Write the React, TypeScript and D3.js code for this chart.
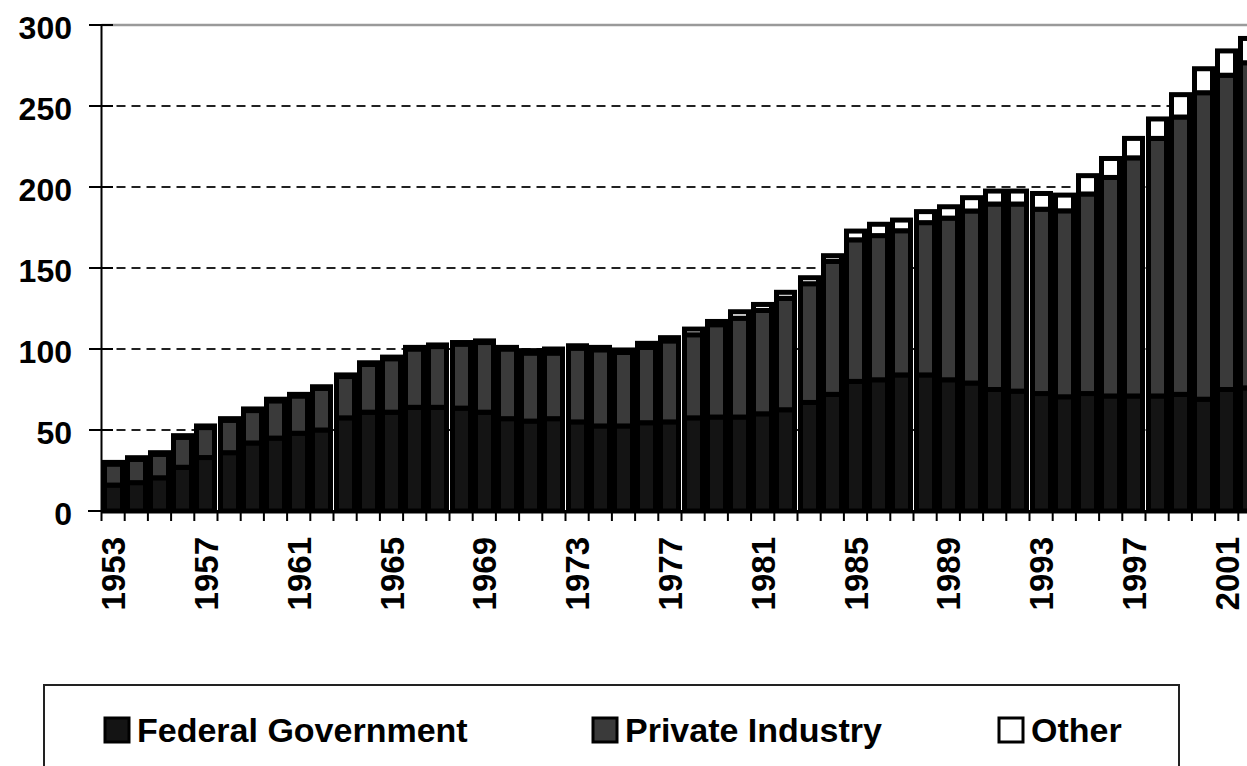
import React, { useEffect, useRef } from 'react'
import * as d3 from 'd3'

// Values (billions, stacked)
const years = [
  '1953', '1954', '1955', '1956', '1957', '1958', '1959', '1960', '1961', '1962',
  '1963', '1964', '1965', '1966', '1967', '1968', '1969', '1970', '1971', '1972',
  '1973', '1974', '1975', '1976', '1977', '1978', '1979', '1980', '1981', '1982',
  '1983', '1984', '1985', '1986', '1987', '1988', '1989', '1990', '1991', '1992',
  '1993', '1994', '1995', '1996', '1997', '1998', '1999', '2000', '2001', '2002',
]

const federal = [
  16, 17.5, 20.5, 27, 33, 36, 42, 45, 48, 50,
  57.5, 61, 61, 64, 64, 63.5, 61, 57, 55.5, 57,
  55, 52.5, 52.5, 54.5, 55, 57.5, 58, 58, 60, 62.5,
  67, 72, 80, 81, 84, 84, 81, 79, 75, 74,
  72.5, 70.5, 72.5, 71, 71, 71, 72, 69, 75, 76,
]

const privateIndustry = [
  13, 14.4, 14.5, 18.5, 18.5, 20, 20, 23, 23, 25.7,
  25.5, 29.5, 33, 36, 37.5, 39.5, 43, 43, 42, 40.5,
  45.5, 47, 45.4, 46.5, 50, 51.3, 57, 61, 63.8, 68.8,
  73.3, 82.1, 87.4, 89, 89, 94, 99.8, 106.2, 114.5, 115.5,
  113.8, 114.8, 123.2, 134.9, 147, 159, 171.2, 189.2, 194, 200.7,
]

const other = [
  1, 1, 1, 1, 1, 1, 1, 1, 1, 1,
  1, 1, 1, 1, 1, 1, 1, 1, 1.5, 2.5,
  1.5, 1.5, 1.5, 2.5, 2, 3.5, 2, 4, 3.7, 3.7,
  3.7, 3.5, 5.4, 7, 6.6, 6.8, 7, 8.2, 8, 8,
  9.7, 9.7, 11.3, 11.7, 12, 12, 13.8, 14.8, 15, 15,
]

const yearLabels = [
  '1953', '1957', '1961', '1965', '1969', '1973', '1977',
  '1981', '1985', '1989', '1993', '1997', '2001',
]

const yTicks = [0, 50, 100, 150, 200, 250, 300]

const seriesKeys = ['federal', 'private', 'other']
const seriesNames = ['Federal Government', 'Private Industry', 'Other']
const seriesColors = ['#141414', '#3a3a3a', '#ffffff']

const FONT = '"Liberation Sans", Arial, sans-serif'

export default function App() {
  const svgRef = useRef<SVGSVGElement>(null)
  const width = 1247
  const height = 766

  useEffect(() => {
    if (!svgRef.current) return
    const svg = d3.select(svgRef.current)
    svg.selectAll('*').remove()

    const left = 101.5
    const step = 23.2
    const top = 25
    const bottom = 511

    const table = years.map((year, i) => ({
      year,
      federal: federal[i],
      private: privateIndustry[i],
      other: other[i],
    }))

    const xScale = d3
      .scaleBand()
      .domain(years)
      .range([left, left + step * years.length])
      .padding(0)

    const yScale = d3.scaleLinear().domain([0, 300]).range([bottom, top])

    const stacked = d3.stack<any>().keys(seriesKeys)(table)

    // dashed gridlines
    svg
      .append('g')
      .selectAll('line')
      .data(yTicks.filter((t) => t > 0 && t < 300))
      .join('line')
      .attr('x1', left)
      .attr('x2', width)
      .attr('y1', (d) => yScale(d))
      .attr('y2', (d) => yScale(d))
      .attr('stroke', '#222')
      .attr('stroke-width', 2.2)
      .attr('stroke-dasharray', '9,6')

    // plot top border
    svg
      .append('line')
      .attr('x1', left)
      .attr('x2', width)
      .attr('y1', yScale(300))
      .attr('y2', yScale(300))
      .attr('stroke', '#9a9a9a')
      .attr('stroke-width', 2.5)

    // stacked bars
    const groups = svg
      .append('g')
      .selectAll('g')
      .data(stacked)
      .join('g')
      .attr('fill', (_, i) => seriesColors[i])

    groups
      .selectAll('rect')
      .data((d) => d)
      .join('rect')
      .attr('x', (d: any) => Math.round(xScale(d.data.year) || 0) + 2.5)
      .attr('width', 18)
      .attr('y', (d: any) => yScale(d[1]))
      .attr('height', (d: any) => yScale(d[0]) - yScale(d[1]))
      .attr('stroke', '#000')
      .attr('stroke-width', 5)

    // y axis
    const yAxis = svg.append('g')
    yAxis
      .append('line')
      .attr('x1', left)
      .attr('x2', left)
      .attr('y1', yScale(300))
      .attr('y2', bottom)
      .attr('stroke', '#000')
      .attr('stroke-width', 2)
    yAxis
      .selectAll('line.tick')
      .data(yTicks)
      .join('line')
      .attr('class', 'tick')
      .attr('x1', 89)
      .attr('x2', 113)
      .attr('y1', (d) => yScale(d))
      .attr('y2', (d) => yScale(d))
      .attr('stroke', '#000')
      .attr('stroke-width', 2)
    yAxis
      .selectAll('text')
      .data(yTicks)
      .join('text')
      .attr('x', 72)
      .attr('y', (d) => yScale(d) + 14)
      .attr('text-anchor', 'end')
      .style('font-family', FONT)
      .style('font-weight', 'bold')
      .style('font-size', '32px')
      .attr('fill', '#000')
      .text((d) => d)

    // x axis
    const xAxis = svg.append('g')
    xAxis
      .append('line')
      .attr('x1', 88)
      .attr('x2', width)
      .attr('y1', bottom)
      .attr('y2', bottom)
      .attr('stroke', '#000')
      .attr('stroke-width', 2)
    xAxis
      .selectAll('line.tick')
      .data(years)
      .join('line')
      .attr('class', 'tick')
      .attr('x1', (d) => xScale(d) || 0)
      .attr('x2', (d) => xScale(d) || 0)
      .attr('y1', bottom)
      .attr('y2', bottom + 10)
      .attr('stroke', '#000')
      .attr('stroke-width', 2)
    xAxis
      .selectAll('text')
      .data(yearLabels)
      .join('text')
      .attr(
        'transform',
        (d) => `translate(${(xScale(d) || 0) + xScale.bandwidth() / 2 + 12},537) rotate(-90)`
      )
      .attr('text-anchor', 'end')
      .style('font-family', FONT)
      .style('font-weight', 'bold')
      .style('font-size', '33px')
      .attr('fill', '#000')
      .text((d) => d)

    // legend
    const legend = svg.append('g')
    legend
      .append('rect')
      .attr('x', 44)
      .attr('y', 685)
      .attr('width', 1135)
      .attr('height', 120)
      .attr('fill', '#fff')
      .attr('stroke', '#222')
      .attr('stroke-width', 2)

    const legendX = [104, 592, 998]
    const items = legend
      .selectAll('g')
      .data(seriesNames)
      .join('g')
      .attr('transform', (_, i) => `translate(${legendX[i]},717)`)
    items
      .append('rect')
      .attr('x', 1)
      .attr('y', 1)
      .attr('width', 24)
      .attr('height', 24)
      .attr('fill', (_, i) => seriesColors[i])
      .attr('stroke', '#000')
      .attr('stroke-width', 3)
    items
      .append('text')
      .attr('x', 33)
      .attr('y', 25)
      .style('font-family', FONT)
      .style('font-weight', 'bold')
      .style('font-size', '34px')
      .attr('fill', '#000')
      .text((d) => d)
  }, [])

  return (
    <svg
      ref={svgRef}
      width={width}
      height={height}
      style={{ position: 'absolute', left: 0, top: 0, background: '#fff' }}
    ></svg>
  )
}
